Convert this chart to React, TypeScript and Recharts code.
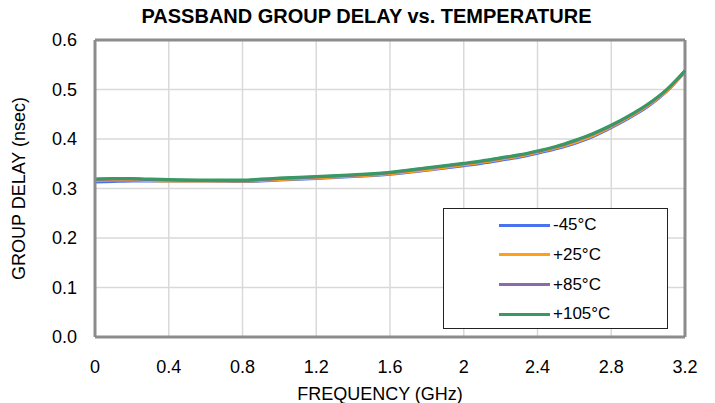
import React from 'react'
import {
  LineChart,
  Line,
  XAxis,
  YAxis,
  CartesianGrid,
  ReferenceLine,
  Legend
} from 'recharts'

// frequency points (GHz) and group delay (nsec)
const freq = [0, 0.1, 0.2, 0.3, 0.4, 0.6, 0.8, 0.9, 1.0, 1.2, 1.4, 1.6, 1.8, 2.0, 2.1, 2.2, 2.3, 2.4, 2.5, 2.6, 2.7, 2.8, 2.9, 3.0, 3.1, 3.2]
const m45 = [0.313, 0.314, 0.315, 0.315, 0.315, 0.315, 0.314, 0.315, 0.317, 0.320, 0.324, 0.329, 0.337, 0.346, 0.351, 0.357, 0.363, 0.371, 0.380, 0.391, 0.405, 0.423, 0.443, 0.466, 0.496, 0.536]
const p25 = [0.316, 0.317, 0.317, 0.316, 0.315, 0.315, 0.315, 0.316, 0.318, 0.321, 0.325, 0.330, 0.338, 0.348, 0.353, 0.359, 0.365, 0.373, 0.382, 0.393, 0.407, 0.425, 0.445, 0.468, 0.497, 0.537]
const p85 = [0.318, 0.319, 0.319, 0.318, 0.317, 0.316, 0.316, 0.318, 0.320, 0.323, 0.327, 0.332, 0.341, 0.350, 0.355, 0.361, 0.367, 0.375, 0.384, 0.396, 0.410, 0.427, 0.447, 0.470, 0.499, 0.538]
const p105 = [0.319, 0.320, 0.320, 0.319, 0.318, 0.317, 0.317, 0.319, 0.321, 0.324, 0.328, 0.333, 0.342, 0.351, 0.356, 0.362, 0.368, 0.376, 0.385, 0.397, 0.411, 0.428, 0.448, 0.471, 0.500, 0.538]

const xTicks = [0, 0.4, 0.8, 1.2, 1.6, 2, 2.4, 2.8, 3.2]
const xTickLabels = ['0', '0.4', '0.8', '1.2', '1.6', '2', '2.4', '2.8', '3.2']
const yTicks = [0, 0.1, 0.2, 0.3, 0.4, 0.5, 0.6]

const seriesNames = ['-45°C', '+25°C', '+85°C', '+105°C']
const seriesKeys = ['m45', 'p25', 'p85', 'p105']
const seriesColors = ['#4a72f0', '#ff9f1a', '#8a6aa8', '#379a62']

const FONT = "Arial, 'Liberation Sans', sans-serif"

const data = freq.map((f, i) => ({
  f,
  m45: m45[i],
  p25: p25[i],
  p85: p85[i],
  p105: p105[i]
}))

const LegendBox = () => (
  <div
    style={{
      width: 225,
      height: 121,
      boxSizing: 'border-box',
      border: '1px solid #222',
      background: '#fff',
      fontFamily: FONT,
      fontSize: 17,
      color: '#000',
      position: 'relative'
    }}
  >
    {seriesNames.map((name, i) => (
      <div
        key={name}
        style={{
          position: 'absolute',
          left: 0,
          top: 16 + i * 29.8 - 10,
          height: 20,
          display: 'flex',
          alignItems: 'center'
        }}
      >
        <div style={{ marginLeft: 55, width: 51, height: 3, background: seriesColors[i] }} />
        <span style={{ marginLeft: 3 }}>{name}</span>
      </div>
    ))}
  </div>
)

export default function App() {
  return (
    <div style={{ position: 'relative', width: 715, height: 403, background: '#fff' }}>
      <style>{`body{margin:0}`}</style>
      <div
        style={{
          position: 'absolute',
          top: 5,
          left: 0,
          width: 715,
          textAlign: 'center',
          fontFamily: FONT,
          fontWeight: 'bold',
          fontSize: 20,
          paddingLeft: 18,
          boxSizing: 'border-box'
        }}
      >
        PASSBAND GROUP DELAY vs. TEMPERATURE
      </div>
      <LineChart
        width={715}
        height={403}
        data={data}
        margin={{ top: 40, right: 30, bottom: 0, left: 0 }}
        style={{ position: 'absolute', top: 0, left: 0 }}
      >
        <CartesianGrid stroke="#d9d9d9" strokeWidth={1.5} />
        <XAxis
          dataKey="f"
          type="number"
          domain={[0, 3.2]}
          ticks={xTicks}
          interval={0}
          height={66}
          tickLine={false}
          tickSize={0}
          tickMargin={23}
          axisLine={{ stroke: '#8c8c8c', strokeWidth: 3 }}
          tick={{ fill: '#000', fontSize: 18, fontFamily: FONT }}
          tickFormatter={(v: number) => xTickLabels[xTicks.findIndex(t => Math.abs(t - v) < 1e-6)] ?? String(v)}
          label={{
            value: 'FREQUENCY (GHz)',
            position: 'insideBottom',
            offset: 3,
            dx: -10,
            fill: '#000',
            fontSize: 18,
            fontFamily: FONT
          }}
        />
        <YAxis
          type="number"
          domain={[0, 0.6]}
          ticks={yTicks}
          interval={0}
          width={95}
          tickLine={false}
          tickSize={0}
          tickMargin={18}
          axisLine={{ stroke: '#8c8c8c', strokeWidth: 3 }}
          tick={{ fill: '#000', fontSize: 18, fontFamily: FONT }}
          tickFormatter={(v: number) => v.toFixed(1)}
          label={{
            value: 'GROUP DELAY (nsec)',
            angle: -90,
            position: 'insideLeft',
            offset: 19,
            style: { textAnchor: 'middle' },
            fill: '#000',
            fontSize: 18,
            fontFamily: FONT
          }}
        />
        <ReferenceLine y={0.6} stroke="#8c8c8c" strokeWidth={3} />
        <ReferenceLine x={3.2} stroke="#8c8c8c" strokeWidth={3} />
        {seriesKeys.map((k, i) => (
          <Line
            key={k}
            dataKey={k}
            name={seriesNames[i]}
            type="monotone"
            stroke={seriesColors[i]}
            strokeWidth={3}
            dot={false}
            isAnimationActive={false}
          />
        ))}
        <Legend
          layout="vertical"
          align="center"
          verticalAlign="middle"
          content={() => <LegendBox />}
          wrapperStyle={{ left: 443, top: 208, width: 225, height: 121 }}
        />
      </LineChart>
    </div>
  )
}
